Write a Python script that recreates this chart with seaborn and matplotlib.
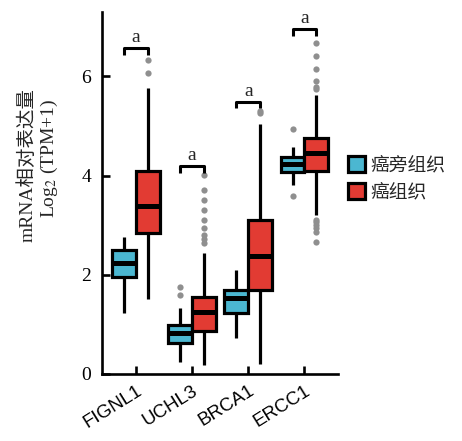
import numpy as np
import pandas as pd
import matplotlib
matplotlib.use("Agg")
import matplotlib.pyplot as plt
import seaborn as sns

genes = ["FIGNL1", "UCHL3", "BRCA1", "ERCC1"]
tissues = ["癌旁组织", "癌组织"]

# 癌旁组织 (adjacent normal) box statistics
normal_wlo = [1.22, 0.25, 0.72, 3.81]
normal_q1 = [1.95, 0.62, 1.22, 4.07]
normal_med = [2.23, 0.82, 1.53, 4.23]
normal_q3 = [2.50, 0.99, 1.69, 4.37]
normal_whi = [2.77, 1.32, 2.09, 4.57]
normal_out = [[], [1.60, 1.76], [], [3.58, 4.93]]

# 癌组织 (tumour) box statistics
tumor_wlo = [1.51, 0.18, 0.21, 3.21]
tumor_q1 = [2.85, 0.87, 1.69, 4.10]
tumor_med = [3.39, 1.25, 2.38, 4.45]
tumor_q3 = [4.10, 1.56, 3.10, 4.75]
tumor_whi = [5.76, 2.44, 5.05, 5.62]
tumor_out = [[6.07, 6.33],
             [2.65, 2.72, 2.80, 2.94, 3.10, 3.30, 3.50, 3.71, 4.01],
             [5.26, 5.30],
             [2.67, 2.87, 2.94, 3.00, 3.07, 3.10, 5.74, 5.78, 5.91, 6.14, 6.41, 6.68]]

sig_height = [6.57, 4.19, 5.49, 6.95]
sig_label = ["a", "a", "a", "a"]

# build a long table whose quartiles/whiskers reproduce the read statistics
rows = []
def add(gene, tissue, wlo, q1, med, q3, whi, outs):
    vals = [wlo, whi] + [q1] * 20 + [med] * 20 + [q3] * 20 + list(outs)
    for v in vals:
        rows.append((gene, tissue, v))

for i, g in enumerate(genes):
    add(g, tissues[0], normal_wlo[i], normal_q1[i], normal_med[i], normal_q3[i], normal_whi[i], normal_out[i])
    add(g, tissues[1], tumor_wlo[i], tumor_q1[i], tumor_med[i], tumor_q3[i], tumor_whi[i], tumor_out[i])
df = pd.DataFrame(rows, columns=["gene", "tissue", "value"])

sns.set_style("ticks")
plt.rcParams["font.family"] = ["Liberation Serif", "Noto Sans CJK SC", "DejaVu Sans"]
plt.rcParams["mathtext.fontset"] = "stix"

fig = plt.figure(figsize=(4.62, 4.41), dpi=100)
ax = fig.add_axes([0.221, 0.152, 0.511, 0.821])

palette = {tissues[0]: "#4bb7d1", tissues[1]: "#e23b33"}
sns.boxplot(data=df, x="gene", y="value", hue="tissue", order=genes, hue_order=tissues,
            palette=palette, width=0.85, gap=0, linewidth=2.3, linecolor="black",
            showcaps=False, saturation=1,
            medianprops={"linewidth": 3.6, "color": "black"},
            flierprops={"marker": "o", "markerfacecolor": "#8f8f8f", "markeredgecolor": "none",
                        "markersize": 4.5},
            ax=ax)

ax.set_xlim(-0.6, 3.6)
ax.set_ylim(0, 7.3)
ax.set_yticks([0, 2, 4, 6])
ax.set_yticklabels(["0", "2", "4", "6"], fontsize=14, family="Liberation Serif")
ax.tick_params(axis="both", direction="in", width=1.9, length=6, colors="black")
ax.tick_params(axis="y", pad=8)
ax.set_xticks(range(len(genes)))
ax.set_xticklabels(genes, rotation=32, ha="right", rotation_mode="anchor",
                   fontsize=13.5, family="Liberation Sans")
ax.tick_params(axis="x", pad=6)
for s in ["top", "right"]:
    ax.spines[s].set_visible(False)
for s in ["left", "bottom"]:
    ax.spines[s].set_linewidth(1.9)
    ax.spines[s].set_color("black")
ax.set_xlabel("")
ax.set_ylabel("")

# significance brackets
for i, (h, lab) in enumerate(zip(sig_height, sig_label)):
    x0, x1 = i - 0.21, i + 0.21
    ax.plot([x0, x0, x1, x1], [h - 0.13, h, h, h - 0.13], color="black", lw=2.2,
            solid_capstyle="butt", clip_on=False)
    ax.text(i, h + 0.04, lab, ha="center", va="bottom", fontsize=14,
            family="Liberation Serif")

fig.text(0.058, 0.625, "mRNA相对表达量", rotation=90, ha="center", va="center",
         fontsize=14, family=["Liberation Serif", "Noto Sans CJK SC"])
fig.text(0.106, 0.64, r"Log$_2$ (TPM+1)", rotation=90, ha="center", va="center",
         fontsize=14, family="Liberation Serif")

leg = ax.legend(loc="center left", bbox_to_anchor=(0.97, 0.54), frameon=False,
                prop={"family": "Noto Sans CJK SC", "size": 13.5},
                handlelength=0.9, handleheight=0.9, handletextpad=0.3, labelspacing=0.3)

fig.savefig("out.png", dpi=100)
